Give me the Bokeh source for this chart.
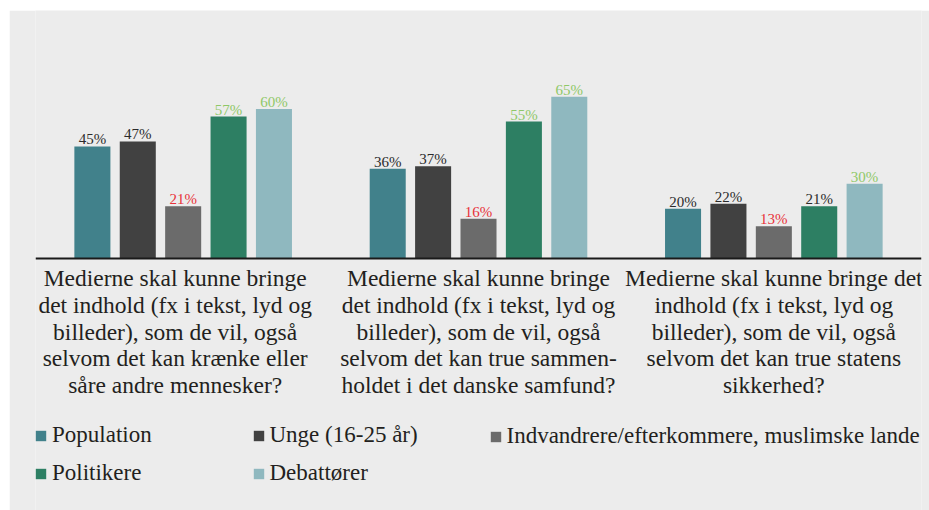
from bokeh.plotting import figure
from bokeh.models import ColumnDataSource, FactorRange, Range1d, Span, Legend, LegendItem
from bokeh.transform import dodge
from bokeh.core.properties import value
from bokeh.embed import file_html
from bokeh.resources import INLINE

# ---------------- data ----------------
questions = [
    "Medierne skal kunne bringe\ndet indhold (fx i tekst, lyd og\nbilleder), som de vil, også\nselvom det kan krænke eller\nsåre andre mennesker?",
    "Medierne skal kunne bringe\ndet indhold (fx i tekst, lyd og\nbilleder), som de vil, også\nselvom det kan true sammen-\nholdet i det danske samfund?",
    "Medierne skal kunne bringe det\nindhold (fx i tekst, lyd og\nbilleder), som de vil, også\nselvom det kan true statens\nsikkerhed?",
]
series = ["Population", "Unge (16-25 år)", "Indvandrere/efterkommere, muslimske lande",
          "Politikere", "Debattører"]
population = [45, 36, 20]
unge = [47, 37, 22]
indvandrere = [21, 16, 13]
politikere = [57, 55, 21]
debattoerer = [60, 65, 30]
# label highlight: 0 = neutral, 1 = higher (green), -1 = lower (red)
flag_population = [0, 0, 0]
flag_unge = [0, 0, 0]
flag_indvandrere = [-1, -1, -1]
flag_politikere = [1, 1, 0]
flag_debattoerer = [1, 1, 1]

values_all = [population, unge, indvandrere, politikere, debattoerer]
flags_all = [flag_population, flag_unge, flag_indvandrere, flag_politikere, flag_debattoerer]

# ---------------- style ----------------
bar_colors = ["#41818b", "#414141", "#6b6b6b", "#2d7f63", "#8fb8bf"]
flag_colors = {0: "#2b2b2b", 1: "#8fc868", -1: "#e8323a"}
BG = "#ececec"
FONT = "Liberation Serif"

W, H = 920, 500
LEFT, RIGHT = 26, 8
px_per_unit = 2.49
base_from_top = 248
y_top = base_from_top / px_per_unit
y_bot = -(H - base_from_top) / px_per_unit

p = figure(width=W, height=H, output_backend="svg", toolbar_location=None,
           x_range=FactorRange(factors=questions, range_padding=0, factor_padding=0),
           y_range=Range1d(y_bot, y_top),
           min_border_left=LEFT, min_border_right=RIGHT, min_border_top=0, min_border_bottom=0)
p.margin = (10, 0, 0, 9)
p.background_fill_color = BG
p.border_fill_color = BG
p.outline_line_color = None
p.xaxis.visible = False
p.yaxis.visible = False
p.xgrid.visible = False
p.ygrid.visible = False

pitch = 0.1537
bw = 0.122
offsets = [-2 * pitch, -pitch, 0, pitch, 2 * pitch]

renderers = []
for i, (vals, flags) in enumerate(zip(values_all, flags_all)):
    src = ColumnDataSource(dict(
        q=questions,
        v=vals,
        lab=[f"{v}%" for v in vals],
        col=[flag_colors[f] for f in flags],
    ))
    r = p.vbar(x=dodge("q", offsets[i], range=p.x_range), top="v", width=bw, source=src,
               fill_color=bar_colors[i], line_color=None)
    renderers.append(r)
    p.text(x=dodge("q", offsets[i], range=p.x_range), y="v", text="lab", source=src,
           text_color="col", text_font=value(FONT), text_font_size="15px",
           text_align="center", text_baseline="alphabetic", y_offset=-7)

# baseline
p.add_layout(Span(location=0, dimension="width", line_color="#1a1a1a", line_width=2))

# question labels under each group
qsrc = ColumnDataSource(dict(q=questions, dx=[-8, 0, 0]))
p.text(x="q", y=-2.8, text="q", source=qsrc, x_offset="dx",
       text_font=value(FONT), text_font_size="23.5px", text_color="#231f20",
       text_align="center", text_baseline="top", text_line_height=1.02)

# legends (three columns)
def make_legend(idx, loc):
    lg = Legend(items=[LegendItem(label=series[j], renderers=[renderers[j]]) for j in idx],
                location=loc, orientation="vertical",
                background_fill_alpha=0, border_line_alpha=0,
                padding=0, margin=0, spacing=12,
                glyph_width=13, glyph_height=13, label_standoff=5,
                label_text_font=FONT, label_text_font_size="23px",
                label_text_color="#231f20")
    p.add_layout(lg, "center")

make_legend([0, 3], (-1, 24))
make_legend([1, 4], (216.5, 24))
make_legend([2], (453.5, 61))

open("out.html", "w").write(file_html(p, INLINE))
